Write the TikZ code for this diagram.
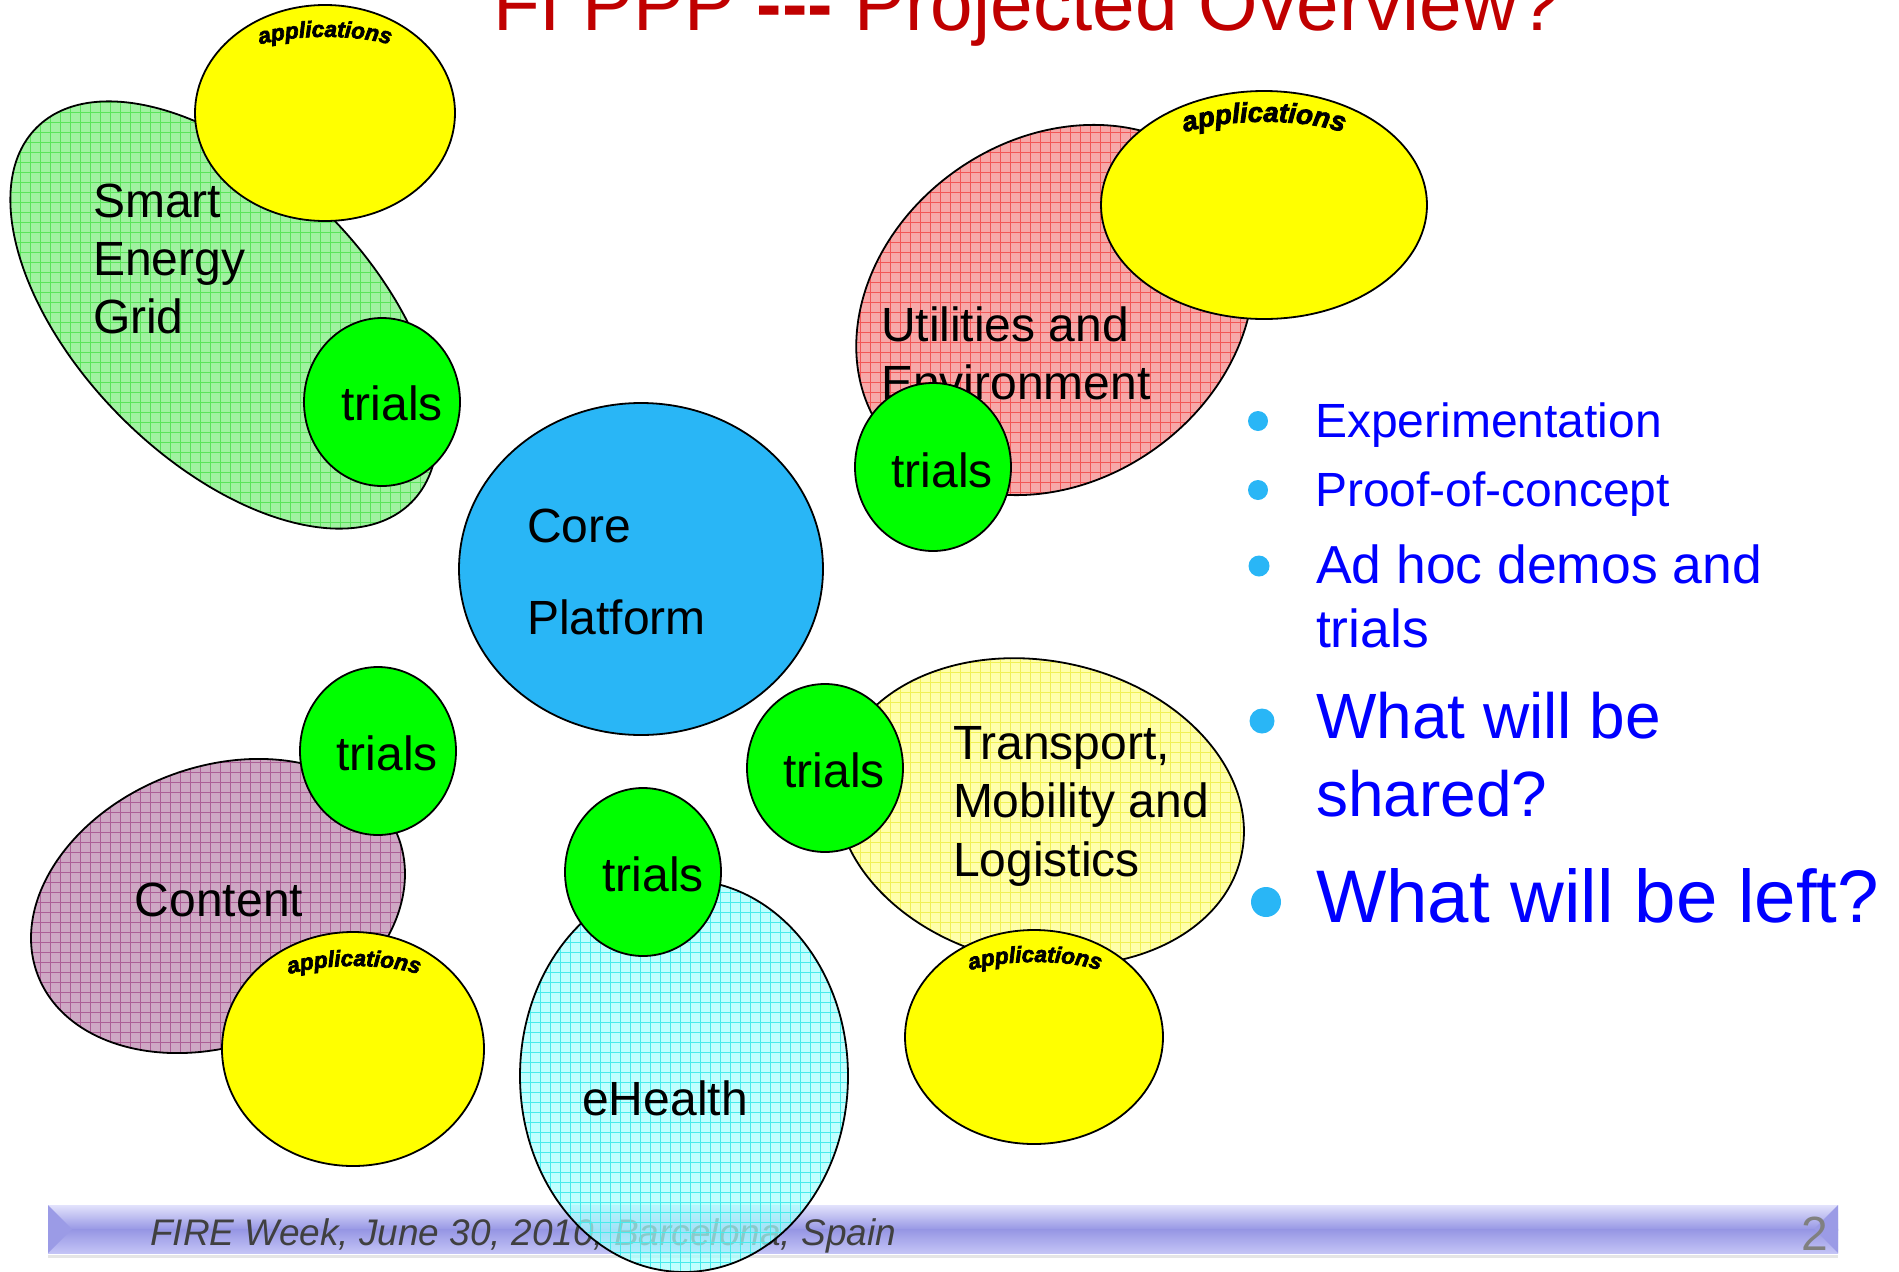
\documentclass[tikz,border=0pt]{standalone}
\usepackage{fontspec}
\setmainfont{Liberation Sans}
\newfontfamily\appfam[BoldItalicFeatures={FakeBold=3},BoldFeatures={FakeBold=3}]{Liberation Sans}
\usetikzlibrary{shapes.geometric,patterns.meta,decorations.text}
\definecolor{segbase}{RGB}{160,242,160}
\definecolor{seggrid}{RGB}{90,228,90}
\definecolor{utilbase}{RGB}{247,168,168}
\definecolor{utilgrid}{RGB}{242,85,85}
\definecolor{contbase}{RGB}{206,168,196}
\definecolor{contgrid}{RGB}{172,95,150}
\definecolor{transbase}{RGB}{255,255,170}
\definecolor{transgrid}{RGB}{240,240,85}
\definecolor{ehbase}{RGB}{168,255,255}
\definecolor{ehgrid}{RGB}{70,235,235}
\definecolor{trialgreen}{RGB}{0,255,0}
\definecolor{appyellow}{RGB}{255,255,0}
\definecolor{corecol}{RGB}{41,182,246}
\definecolor{bulletcol}{RGB}{41,182,246}
\definecolor{bluetext}{RGB}{0,0,255}
\definecolor{titlered}{RGB}{192,0,0}
\definecolor{footgray}{RGB}{64,64,64}
\definecolor{pagegray}{RGB}{128,128,128}
\definecolor{barlight}{RGB}{226,226,252}
\definecolor{bardark}{RGB}{150,150,228}
\definecolor{barbottom}{RGB}{196,196,246}
\definecolor{bartri}{RGB}{155,155,230}
\newcommand\appsfont{\appfam\fontsize{22.5}{22.5}\selectfont\bfseries\itshape}
\newcommand\appsbigfont{\appfam\fontsize{27.5}{27.5}\selectfont\bfseries\itshape}
\tikzset{
  blob/.style={ellipse, draw=black, line width=1.8pt, inner sep=0pt, outer sep=0pt},
  meshfill/.style 2 args={preaction={fill=#1}, pattern={Hatch[distance=10pt,angle=0,line width=0.8pt]}, pattern color=#2},
  trialsnode/.style={blob, fill=trialgreen, minimum width=156pt, minimum height=168pt},
  appsnode/.style={blob, fill=appyellow},
  lbl/.style={inner sep=0pt, outer sep=0pt, text=black, font=\fontsize{48}{58}\selectfont},
  bul/.style={circle, fill=bulletcol, inner sep=0pt},
  bultext/.style={inner sep=0pt, outer sep=0pt, text=bluetext},
  arctext/.style={decorate, decoration={text along path, text align=center, text={#1}}}
}
\begin{document}
\begin{tikzpicture}[x=1pt,y=-1pt]
\useasboundingbox (0,0) rectangle (1899,1272);

% footer bar
\shade[top color=barlight, bottom color=bardark] (48,1205) rectangle (1838,1230);
\shade[top color=bardark, bottom color=barbottom] (48,1229.5) rectangle (1838,1253);
\fill[bartri] (48,1205) -- (72,1229) -- (48,1253) -- cycle;
\fill[bartri] (1838,1205) -- (1814,1229) -- (1838,1253) -- cycle;
\draw[line width=3pt, black!10] (48,1256) -- (1838,1256);
\node[inner sep=0pt, anchor=base west, text=footgray, font=\fontsize{37}{37}\selectfont\itshape] (foot) at (150,1245) {FIRE Week, June 30, 2010, Barcelona, Spain};
\node[inner sep=0pt, anchor=base west, text=pagegray, font=\fontsize{48}{48}\selectfont] (page) at (1801,1250) {2};

% Smart Energy Grid
\node[blob, meshfill={segbase}{seggrid}, minimum width=530pt, minimum height=290pt, rotate=-45] (seg) at (224,315) {};
\node[lbl, anchor=north west, align=left] (segl) at (93,184) {Smart\\Energy\\Grid};
\node[appsnode, minimum width=260pt, minimum height=216pt] (app1) at (325,113) {};
\path[arctext={|\appsfont|applications}] (252,47) .. controls (289,33.5) and (361,33.5) .. (398,47);
\node[trialsnode] (tr1) at (382,402) {};
\node[lbl] (tr1l) at (392,403) {trials};

% Utilities and Environment
\node[blob, meshfill={utilbase}{utilgrid}, minimum width=422pt, minimum height=342pt, rotate=35] (util) at (1055,310) {};
\node[lbl, anchor=north west, align=left] (utill) at (881,307) {Utilities and\\Environment};
\node[appsnode, minimum width=326pt, minimum height=228pt] (app2) at (1264,205) {};
\path[arctext={|\appsbigfont|applications}] (1175,136) .. controls (1219,117) and (1309,117) .. (1353,136);
\node[trialsnode] (tr2) at (933,467) {};
\node[lbl] (tr2l) at (942,470) {trials};

% Core Platform
\node[blob, fill=corecol, minimum width=364pt, minimum height=332pt] (core) at (641,569) {};
\node[lbl, anchor=north west, align=left, font=\fontsize{48}{92}\selectfont] (corel) at (527,509) {Core\\Platform};

% Content
\node[blob, meshfill={contbase}{contgrid}, minimum width=386pt, minimum height=278pt, rotate=21] (cont) at (218,906) {};
\node[lbl] (contl) at (219,900) {Content};
\node[appsnode, minimum width=262pt, minimum height=234pt] (app3) at (353,1049) {};
\path[arctext={|\appsfont|applications}] (281,977) .. controls (318,962.3) and (390,962.3) .. (427,977);
\node[trialsnode] (tr3) at (378,751) {};
\node[lbl] (tr3l) at (387,753) {trials};

% eHealth
\node[blob, preaction={fill=ehbase, fill opacity=0.72}, pattern={Hatch[distance=10pt,angle=0,line width=0.8pt]}, pattern color=ehgrid, fill opacity=0.72, minimum width=328pt, minimum height=392pt] (eh) at (684,1076) {};
\node[lbl] (ehl) at (665,1098) {eHealth};
\node[trialsnode] (tr4) at (643,872) {};
\node[lbl] (tr4l) at (653,874) {trials};

% Transport, Mobility and Logistics
\node[blob, meshfill={transbase}{transgrid}, minimum width=412pt, minimum height=302pt, rotate=-12] (trans) at (1040,812) {};
\node[lbl, anchor=north west, align=left, font=\fontsize{48}{58.5}\selectfont] (transl) at (953,726) {Transport,\\Mobility and\\Logistics};
\node[appsnode, minimum width=258pt, minimum height=214pt] (app4) at (1034,1037) {};
\path[arctext={|\appsfont|applications}] (962,973) .. controls (999,958.3) and (1071,958.3) .. (1108,973);
\node[trialsnode] (tr5) at (825,768) {};
\node[lbl] (tr5l) at (834,770) {trials};

% bullets
\node[bul, minimum size=20pt] (b1) at (1258,421) {};
\node[bultext, anchor=base west, font=\fontsize{48}{58}\selectfont] (t1) at (1315,437) {Experimentation};
\node[bul, minimum size=20pt] (b2) at (1258,490) {};
\node[bultext, anchor=base west, font=\fontsize{48}{58}\selectfont] (t2) at (1315,506) {Proof-of-concept};
\node[bul, minimum size=21pt] (b3) at (1259,566) {};
\node[bultext, anchor=north west, align=left, font=\fontsize{53.5}{64}\selectfont] (t3) at (1316,545) {Ad hoc demos and\\trials};
\node[bul, minimum size=25pt] (b4) at (1262,721) {};
\node[bultext, anchor=north west, align=left, font=\fontsize{64}{78}\selectfont] (t4) at (1316,692) {What will be\\shared?};
\node[bul, minimum size=30pt] (b5) at (1266,902) {};
\node[bultext, anchor=base west, font=\fontsize{74.5}{74.5}\selectfont] (t5) at (1316,922) {What will be left?};

% title (cut by the top edge)
\node[inner sep=0pt, anchor=base west, text=titlered, font=\fontsize{76.5}{76.5}\selectfont] (title) at (493,30) {FI PPP {\bfseries -{}-{}-} Projected Overview?};
\end{tikzpicture}
\end{document}
